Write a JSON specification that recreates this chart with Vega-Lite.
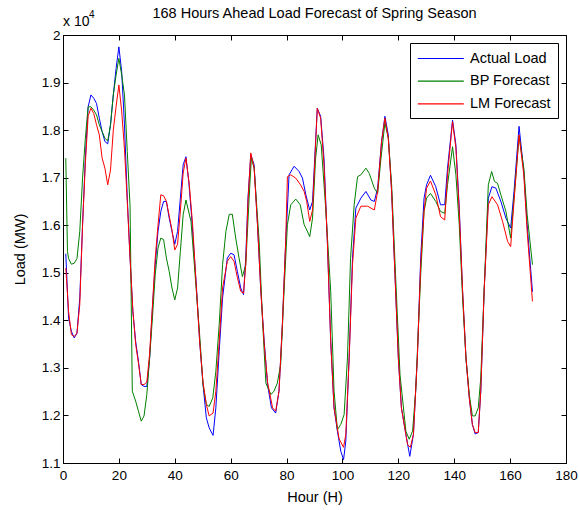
{
"$schema": "https://vega.github.io/schema/vega-lite/v6.json",
"autosize": "none",
"width": 503, "height": 428,
"padding": {"left": 63, "top": 35, "right": 13, "bottom": 47},
"background": "white",
"title": {"text": "168 Hours Ahead Load Forecast of Spring Season", "font": "Liberation Sans", "fontSize": 14.5, "fontWeight": "normal", "color": "black", "offset": -11, "anchor": "middle"},
"config": {
  "view": {"stroke": "black", "strokeWidth": 1},
  "axis": {"grid": false, "domainColor": "black", "tickColor": "black", "labelColor": "black", "titleColor": "black", "labelFont": "Liberation Sans", "titleFont": "Liberation Sans", "labelFontSize": 13.5, "titleFontSize": 14.5, "titleFontWeight": "normal", "tickSize": -5}
},
"datasets": {
"load": [
{"h":1,"s":"Actual Load","v":15400},{"h":2,"s":"Actual Load","v":14050},{"h":3,"s":"Actual Load","v":13770},{"h":4,"s":"Actual Load","v":13630},{"h":5,"s":"Actual Load","v":13730},{"h":6,"s":"Actual Load","v":14470},{"h":7,"s":"Actual Load","v":16000},{"h":8,"s":"Actual Load","v":17410},{"h":9,"s":"Actual Load","v":18490},{"h":10,"s":"Actual Load","v":18740},{"h":11,"s":"Actual Load","v":18670},{"h":12,"s":"Actual Load","v":18560},{"h":13,"s":"Actual Load","v":18250},{"h":14,"s":"Actual Load","v":17970},{"h":15,"s":"Actual Load","v":17760},{"h":16,"s":"Actual Load","v":17710},{"h":17,"s":"Actual Load","v":18110},{"h":18,"s":"Actual Load","v":18740},{"h":19,"s":"Actual Load","v":19300},{"h":20,"s":"Actual Load","v":19750},{"h":21,"s":"Actual Load","v":19230},{"h":22,"s":"Actual Load","v":18110},{"h":23,"s":"Actual Load","v":16570},{"h":24,"s":"Actual Load","v":15310},{"h":25,"s":"Actual Load","v":14190},{"h":26,"s":"Actual Load","v":13560},{"h":27,"s":"Actual Load","v":13140},{"h":28,"s":"Actual Load","v":12650},{"h":29,"s":"Actual Load","v":12610},{"h":30,"s":"Actual Load","v":12610},{"h":31,"s":"Actual Load","v":13210},{"h":32,"s":"Actual Load","v":14260},{"h":33,"s":"Actual Load","v":15170},{"h":34,"s":"Actual Load","v":15870},{"h":35,"s":"Actual Load","v":16290},{"h":36,"s":"Actual Load","v":16500},{"h":37,"s":"Actual Load","v":16500},{"h":38,"s":"Actual Load","v":16150},{"h":39,"s":"Actual Load","v":15870},{"h":40,"s":"Actual Load","v":15600},{"h":41,"s":"Actual Load","v":15870},{"h":42,"s":"Actual Load","v":16570},{"h":43,"s":"Actual Load","v":17270},{"h":44,"s":"Actual Load","v":17440},{"h":45,"s":"Actual Load","v":16920},{"h":46,"s":"Actual Load","v":16200},{"h":47.7,"s":"Actual Load","v":14750},{"h":48.9,"s":"Actual Load","v":13560},{"h":50.1,"s":"Actual Load","v":12650},{"h":51.3,"s":"Actual Load","v":11950},{"h":52.3,"s":"Actual Load","v":11740},{"h":53.7,"s":"Actual Load","v":11580},{"h":54.7,"s":"Actual Load","v":12160},{"h":55.9,"s":"Actual Load","v":13350},{"h":57.1,"s":"Actual Load","v":14470},{"h":58.8,"s":"Actual Load","v":15310},{"h":60,"s":"Actual Load","v":15410},{"h":61.2,"s":"Actual Load","v":15380},{"h":62.4,"s":"Actual Load","v":15030},{"h":63.6,"s":"Actual Load","v":14680},{"h":64.6,"s":"Actual Load","v":14540},{"h":65.4,"s":"Actual Load","v":15310},{"h":66.2,"s":"Actual Load","v":16570},{"h":67.2,"s":"Actual Load","v":17480},{"h":68.4,"s":"Actual Load","v":17270},{"h":69.6,"s":"Actual Load","v":16010},{"h":70.8,"s":"Actual Load","v":14610},{"h":72,"s":"Actual Load","v":13560},{"h":73.2,"s":"Actual Load","v":12650},{"h":74.6,"s":"Actual Load","v":12160},{"h":76.1,"s":"Actual Load","v":12050},{"h":77.3,"s":"Actual Load","v":12510},{"h":78.5,"s":"Actual Load","v":13910},{"h":79.7,"s":"Actual Load","v":15660},{"h":80.9,"s":"Actual Load","v":17060},{"h":82.7,"s":"Actual Load","v":17240},{"h":84.5,"s":"Actual Load","v":17130},{"h":85.7,"s":"Actual Load","v":16990},{"h":86.9,"s":"Actual Load","v":16640},{"h":88.3,"s":"Actual Load","v":16320},{"h":89.3,"s":"Actual Load","v":16500},{"h":91,"s":"Actual Load","v":18460},{"h":92.2,"s":"Actual Load","v":18290},{"h":93.4,"s":"Actual Load","v":17410},{"h":94.6,"s":"Actual Load","v":15660},{"h":95.8,"s":"Actual Load","v":13560},{"h":97,"s":"Actual Load","v":12160},{"h":98.2,"s":"Actual Load","v":11670},{"h":99.4,"s":"Actual Load","v":11250},{"h":100.4,"s":"Actual Load","v":11070},{"h":101.2,"s":"Actual Load","v":11460},{"h":102.4,"s":"Actual Load","v":13210},{"h":103.6,"s":"Actual Load","v":15310},{"h":104.8,"s":"Actual Load","v":16360},{"h":106.6,"s":"Actual Load","v":16570},{"h":108.4,"s":"Actual Load","v":16710},{"h":110.2,"s":"Actual Load","v":16530},{"h":111.4,"s":"Actual Load","v":16500},{"h":112.6,"s":"Actual Load","v":16780},{"h":114,"s":"Actual Load","v":17760},{"h":115.2,"s":"Actual Load","v":18290},{"h":116.4,"s":"Actual Load","v":17900},{"h":117.6,"s":"Actual Load","v":16710},{"h":118.8,"s":"Actual Load","v":14960},{"h":120,"s":"Actual Load","v":13210},{"h":121.1,"s":"Actual Load","v":12160},{"h":122.7,"s":"Actual Load","v":11600},{"h":124.1,"s":"Actual Load","v":11140},{"h":125.4,"s":"Actual Load","v":11600},{"h":126.8,"s":"Actual Load","v":13210},{"h":128,"s":"Actual Load","v":15310},{"h":129.2,"s":"Actual Load","v":16570},{"h":130.1,"s":"Actual Load","v":16850},{"h":131.5,"s":"Actual Load","v":17050},{"h":133.4,"s":"Actual Load","v":16810},{"h":135.1,"s":"Actual Load","v":16430},{"h":136.6,"s":"Actual Load","v":16430},{"h":137.6,"s":"Actual Load","v":17200},{"h":139.4,"s":"Actual Load","v":18210},{"h":140.6,"s":"Actual Load","v":17690},{"h":141.8,"s":"Actual Load","v":16360},{"h":143,"s":"Actual Load","v":14610},{"h":144.2,"s":"Actual Load","v":13210},{"h":145.4,"s":"Actual Load","v":12370},{"h":146.5,"s":"Actual Load","v":11810},{"h":147.5,"s":"Actual Load","v":11610},{"h":148.6,"s":"Actual Load","v":11640},{"h":149.5,"s":"Actual Load","v":12510},{"h":150.7,"s":"Actual Load","v":14610},{"h":152.2,"s":"Actual Load","v":16570},{"h":153.5,"s":"Actual Load","v":16810},{"h":154.9,"s":"Actual Load","v":16780},{"h":156.7,"s":"Actual Load","v":16500},{"h":158.5,"s":"Actual Load","v":16150},{"h":160.2,"s":"Actual Load","v":15940},{"h":161.4,"s":"Actual Load","v":16710},{"h":163.2,"s":"Actual Load","v":18080},{"h":164.9,"s":"Actual Load","v":17130},{"h":166.1,"s":"Actual Load","v":16010},{"h":168,"s":"Actual Load","v":14600},
{"h":1,"s":"BP Forecast","v":17410},{"h":1.6,"s":"BP Forecast","v":15450},{"h":2,"s":"BP Forecast","v":15300},{"h":3,"s":"BP Forecast","v":15180},{"h":4,"s":"BP Forecast","v":15200},{"h":5,"s":"BP Forecast","v":15300},{"h":6,"s":"BP Forecast","v":15870},{"h":7,"s":"BP Forecast","v":16990},{"h":8,"s":"BP Forecast","v":17830},{"h":9,"s":"BP Forecast","v":18490},{"h":10,"s":"BP Forecast","v":18490},{"h":11,"s":"BP Forecast","v":18420},{"h":12,"s":"BP Forecast","v":18320},{"h":13,"s":"BP Forecast","v":18110},{"h":14,"s":"BP Forecast","v":17970},{"h":15,"s":"BP Forecast","v":17830},{"h":16,"s":"BP Forecast","v":17770},{"h":17,"s":"BP Forecast","v":18110},{"h":18,"s":"BP Forecast","v":18740},{"h":19,"s":"BP Forecast","v":19160},{"h":20,"s":"BP Forecast","v":19510},{"h":21,"s":"BP Forecast","v":19160},{"h":22,"s":"BP Forecast","v":18740},{"h":23,"s":"BP Forecast","v":17550},{"h":24,"s":"BP Forecast","v":16390},{"h":24.8,"s":"BP Forecast","v":12510},{"h":26,"s":"BP Forecast","v":12300},{"h":27,"s":"BP Forecast","v":12090},{"h":28,"s":"BP Forecast","v":11880},{"h":29,"s":"BP Forecast","v":11990},{"h":30,"s":"BP Forecast","v":12440},{"h":31,"s":"BP Forecast","v":13210},{"h":32,"s":"BP Forecast","v":14050},{"h":33,"s":"BP Forecast","v":14960},{"h":34,"s":"BP Forecast","v":15520},{"h":35,"s":"BP Forecast","v":15730},{"h":36,"s":"BP Forecast","v":15700},{"h":37,"s":"BP Forecast","v":15310},{"h":38,"s":"BP Forecast","v":15030},{"h":39,"s":"BP Forecast","v":14680},{"h":40,"s":"BP Forecast","v":14430},{"h":41,"s":"BP Forecast","v":14680},{"h":42,"s":"BP Forecast","v":15450},{"h":43,"s":"BP Forecast","v":16220},{"h":44,"s":"BP Forecast","v":16530},{"h":45.8,"s":"BP Forecast","v":16080},{"h":47,"s":"BP Forecast","v":15170},{"h":48.9,"s":"BP Forecast","v":13700},{"h":50.1,"s":"BP Forecast","v":12650},{"h":51.3,"s":"BP Forecast","v":12230},{"h":52.3,"s":"BP Forecast","v":12190},{"h":53.6,"s":"BP Forecast","v":12370},{"h":54.7,"s":"BP Forecast","v":12930},{"h":55.9,"s":"BP Forecast","v":13910},{"h":57.1,"s":"BP Forecast","v":15170},{"h":58.3,"s":"BP Forecast","v":15870},{"h":59.5,"s":"BP Forecast","v":16230},{"h":60.6,"s":"BP Forecast","v":16230},{"h":61.8,"s":"BP Forecast","v":15730},{"h":63,"s":"BP Forecast","v":15310},{"h":64.2,"s":"BP Forecast","v":14920},{"h":65.4,"s":"BP Forecast","v":15170},{"h":66.6,"s":"BP Forecast","v":16570},{"h":67.4,"s":"BP Forecast","v":17410},{"h":68.4,"s":"BP Forecast","v":17200},{"h":70.2,"s":"BP Forecast","v":15660},{"h":71.4,"s":"BP Forecast","v":14000},{"h":72.6,"s":"BP Forecast","v":12680},{"h":74.4,"s":"BP Forecast","v":12440},{"h":75.5,"s":"BP Forecast","v":12510},{"h":76.7,"s":"BP Forecast","v":12680},{"h":77.9,"s":"BP Forecast","v":13070},{"h":79.1,"s":"BP Forecast","v":14610},{"h":80.3,"s":"BP Forecast","v":16010},{"h":81.5,"s":"BP Forecast","v":16430},{"h":83.3,"s":"BP Forecast","v":16550},{"h":84.9,"s":"BP Forecast","v":16430},{"h":86.3,"s":"BP Forecast","v":16010},{"h":86.9,"s":"BP Forecast","v":15940},{"h":88.3,"s":"BP Forecast","v":15760},{"h":89.3,"s":"BP Forecast","v":16150},{"h":90.4,"s":"BP Forecast","v":17410},{"h":91.3,"s":"BP Forecast","v":17900},{"h":92.4,"s":"BP Forecast","v":17690},{"h":94,"s":"BP Forecast","v":16360},{"h":95.8,"s":"BP Forecast","v":14610},{"h":97,"s":"BP Forecast","v":12510},{"h":98.2,"s":"BP Forecast","v":11700},{"h":99.4,"s":"BP Forecast","v":11810},{"h":100.6,"s":"BP Forecast","v":12020},{"h":101.8,"s":"BP Forecast","v":13210},{"h":102.9,"s":"BP Forecast","v":15300},{"h":104.2,"s":"BP Forecast","v":16430},{"h":105.4,"s":"BP Forecast","v":17020},{"h":106.6,"s":"BP Forecast","v":17060},{"h":108.4,"s":"BP Forecast","v":17200},{"h":109.6,"s":"BP Forecast","v":17090},{"h":111.4,"s":"BP Forecast","v":16780},{"h":112.6,"s":"BP Forecast","v":16670},{"h":113.8,"s":"BP Forecast","v":17410},{"h":115.2,"s":"BP Forecast","v":18150},{"h":116.4,"s":"BP Forecast","v":17830},{"h":117.6,"s":"BP Forecast","v":16850},{"h":119,"s":"BP Forecast","v":14960},{"h":120.6,"s":"BP Forecast","v":12860},{"h":122.7,"s":"BP Forecast","v":11670},{"h":123.9,"s":"BP Forecast","v":11500},{"h":125.1,"s":"BP Forecast","v":11670},{"h":126.2,"s":"BP Forecast","v":12510},{"h":128,"s":"BP Forecast","v":14960},{"h":129.2,"s":"BP Forecast","v":16290},{"h":130.1,"s":"BP Forecast","v":16570},{"h":131.5,"s":"BP Forecast","v":16670},{"h":133.4,"s":"BP Forecast","v":16500},{"h":135.1,"s":"BP Forecast","v":16290},{"h":136.6,"s":"BP Forecast","v":16250},{"h":137.6,"s":"BP Forecast","v":16850},{"h":139.4,"s":"BP Forecast","v":17650},{"h":140.6,"s":"BP Forecast","v":17060},{"h":141.8,"s":"BP Forecast","v":16010},{"h":143,"s":"BP Forecast","v":14470},{"h":144.2,"s":"BP Forecast","v":13210},{"h":145.4,"s":"BP Forecast","v":12440},{"h":146.5,"s":"BP Forecast","v":11990},{"h":147.5,"s":"BP Forecast","v":11990},{"h":148.6,"s":"BP Forecast","v":12160},{"h":149.5,"s":"BP Forecast","v":12790},{"h":150.7,"s":"BP Forecast","v":14610},{"h":152.2,"s":"BP Forecast","v":16850},{"h":153.4,"s":"BP Forecast","v":17130},{"h":154.4,"s":"BP Forecast","v":16920},{"h":155.5,"s":"BP Forecast","v":16880},{"h":156.7,"s":"BP Forecast","v":16640},{"h":158.5,"s":"BP Forecast","v":16290},{"h":160.2,"s":"BP Forecast","v":15730},{"h":161.4,"s":"BP Forecast","v":16570},{"h":163.2,"s":"BP Forecast","v":17870},{"h":164.9,"s":"BP Forecast","v":17200},{"h":166.1,"s":"BP Forecast","v":16220},{"h":168,"s":"BP Forecast","v":15170},
{"h":1,"s":"LM Forecast","v":15100},{"h":2,"s":"LM Forecast","v":14190},{"h":3,"s":"LM Forecast","v":13700},{"h":4,"s":"LM Forecast","v":13660},{"h":5,"s":"LM Forecast","v":13730},{"h":6,"s":"LM Forecast","v":14330},{"h":7,"s":"LM Forecast","v":16000},{"h":8,"s":"LM Forecast","v":17300},{"h":9,"s":"LM Forecast","v":18300},{"h":10,"s":"LM Forecast","v":18460},{"h":11,"s":"LM Forecast","v":18350},{"h":12,"s":"LM Forecast","v":18110},{"h":13,"s":"LM Forecast","v":17900},{"h":14,"s":"LM Forecast","v":17410},{"h":15,"s":"LM Forecast","v":17200},{"h":16,"s":"LM Forecast","v":16850},{"h":17,"s":"LM Forecast","v":17160},{"h":18,"s":"LM Forecast","v":18000},{"h":19,"s":"LM Forecast","v":18500},{"h":20,"s":"LM Forecast","v":18950},{"h":21,"s":"LM Forecast","v":18400},{"h":22,"s":"LM Forecast","v":17600},{"h":23,"s":"LM Forecast","v":16500},{"h":24,"s":"LM Forecast","v":15300},{"h":25,"s":"LM Forecast","v":14200},{"h":26,"s":"LM Forecast","v":13500},{"h":27,"s":"LM Forecast","v":13100},{"h":28,"s":"LM Forecast","v":12650},{"h":29,"s":"LM Forecast","v":12650},{"h":30,"s":"LM Forecast","v":12700},{"h":31,"s":"LM Forecast","v":13300},{"h":32,"s":"LM Forecast","v":14300},{"h":33,"s":"LM Forecast","v":15300},{"h":34,"s":"LM Forecast","v":16000},{"h":35,"s":"LM Forecast","v":16640},{"h":36,"s":"LM Forecast","v":16620},{"h":37,"s":"LM Forecast","v":16500},{"h":38,"s":"LM Forecast","v":16200},{"h":39,"s":"LM Forecast","v":15900},{"h":40,"s":"LM Forecast","v":15480},{"h":41,"s":"LM Forecast","v":15600},{"h":42,"s":"LM Forecast","v":16300},{"h":43,"s":"LM Forecast","v":17100},{"h":44,"s":"LM Forecast","v":17410},{"h":45.2,"s":"LM Forecast","v":16850},{"h":46.4,"s":"LM Forecast","v":16000},{"h":47.7,"s":"LM Forecast","v":14700},{"h":48.9,"s":"LM Forecast","v":13560},{"h":50.1,"s":"LM Forecast","v":12700},{"h":51.3,"s":"LM Forecast","v":12230},{"h":52.3,"s":"LM Forecast","v":11990},{"h":53.7,"s":"LM Forecast","v":12050},{"h":54.7,"s":"LM Forecast","v":12510},{"h":55.9,"s":"LM Forecast","v":13560},{"h":57.1,"s":"LM Forecast","v":14680},{"h":58.8,"s":"LM Forecast","v":15240},{"h":60,"s":"LM Forecast","v":15340},{"h":61.2,"s":"LM Forecast","v":15240},{"h":62.4,"s":"LM Forecast","v":14900},{"h":63.6,"s":"LM Forecast","v":14610},{"h":64.6,"s":"LM Forecast","v":14570},{"h":65.4,"s":"LM Forecast","v":15170},{"h":66.2,"s":"LM Forecast","v":16500},{"h":67.2,"s":"LM Forecast","v":17520},{"h":68.4,"s":"LM Forecast","v":17200},{"h":69.6,"s":"LM Forecast","v":16010},{"h":70.8,"s":"LM Forecast","v":14610},{"h":72,"s":"LM Forecast","v":13500},{"h":73.2,"s":"LM Forecast","v":12700},{"h":75,"s":"LM Forecast","v":12160},{"h":76.1,"s":"LM Forecast","v":12090},{"h":77.3,"s":"LM Forecast","v":12510},{"h":78.5,"s":"LM Forecast","v":13910},{"h":79.7,"s":"LM Forecast","v":15660},{"h":80.3,"s":"LM Forecast","v":17020},{"h":81.5,"s":"LM Forecast","v":17060},{"h":83.3,"s":"LM Forecast","v":16990},{"h":85,"s":"LM Forecast","v":16850},{"h":86.3,"s":"LM Forecast","v":16710},{"h":87.2,"s":"LM Forecast","v":16500},{"h":88.3,"s":"LM Forecast","v":16080},{"h":89.3,"s":"LM Forecast","v":16320},{"h":91,"s":"LM Forecast","v":18460},{"h":92.2,"s":"LM Forecast","v":18250},{"h":93.4,"s":"LM Forecast","v":17270},{"h":94.6,"s":"LM Forecast","v":15660},{"h":95.8,"s":"LM Forecast","v":13560},{"h":97,"s":"LM Forecast","v":12160},{"h":98.8,"s":"LM Forecast","v":11510},{"h":100.4,"s":"LM Forecast","v":11330},{"h":101.2,"s":"LM Forecast","v":11600},{"h":102.4,"s":"LM Forecast","v":13210},{"h":103.6,"s":"LM Forecast","v":15170},{"h":104.8,"s":"LM Forecast","v":16150},{"h":106.6,"s":"LM Forecast","v":16400},{"h":109,"s":"LM Forecast","v":16400},{"h":111.4,"s":"LM Forecast","v":16320},{"h":112.6,"s":"LM Forecast","v":16710},{"h":114,"s":"LM Forecast","v":17760},{"h":115.2,"s":"LM Forecast","v":18250},{"h":116.4,"s":"LM Forecast","v":17830},{"h":117.6,"s":"LM Forecast","v":16710},{"h":118.8,"s":"LM Forecast","v":14960},{"h":120,"s":"LM Forecast","v":13210},{"h":121.1,"s":"LM Forecast","v":12160},{"h":123.3,"s":"LM Forecast","v":11390},{"h":124.3,"s":"LM Forecast","v":11330},{"h":125.4,"s":"LM Forecast","v":11600},{"h":126.8,"s":"LM Forecast","v":13210},{"h":128,"s":"LM Forecast","v":15170},{"h":129.2,"s":"LM Forecast","v":16290},{"h":130.1,"s":"LM Forecast","v":16780},{"h":131.5,"s":"LM Forecast","v":16930},{"h":133.4,"s":"LM Forecast","v":16640},{"h":135.1,"s":"LM Forecast","v":16180},{"h":136.6,"s":"LM Forecast","v":16110},{"h":137.6,"s":"LM Forecast","v":17060},{"h":139.4,"s":"LM Forecast","v":18180},{"h":140.6,"s":"LM Forecast","v":17620},{"h":141.8,"s":"LM Forecast","v":16290},{"h":143,"s":"LM Forecast","v":14610},{"h":144.2,"s":"LM Forecast","v":13210},{"h":145.4,"s":"LM Forecast","v":12370},{"h":146.5,"s":"LM Forecast","v":11810},{"h":147.5,"s":"LM Forecast","v":11640},{"h":148.6,"s":"LM Forecast","v":11640},{"h":149.5,"s":"LM Forecast","v":12510},{"h":150.7,"s":"LM Forecast","v":14610},{"h":152.2,"s":"LM Forecast","v":16430},{"h":153.5,"s":"LM Forecast","v":16600},{"h":155.5,"s":"LM Forecast","v":16430},{"h":157.3,"s":"LM Forecast","v":16080},{"h":159.1,"s":"LM Forecast","v":15660},{"h":160.2,"s":"LM Forecast","v":15550},{"h":161.4,"s":"LM Forecast","v":16500},{"h":163.2,"s":"LM Forecast","v":17900},{"h":164.9,"s":"LM Forecast","v":17060},{"h":166.1,"s":"LM Forecast","v":15870},{"h":168,"s":"LM Forecast","v":14400}
]
},
"data": {"name": "load"},
"layer": [
  {
    "mark": {"type": "line", "strokeWidth": 1, "clip": true},
    "encoding": {
      "x": {"field": "h", "type": "quantitative", "scale": {"domain": [0, 180], "nice": false, "zero": false},
            "axis": {"values": [0,20,40,60,80,100,120,140,160,180], "title": "Hour (H)", "labelPadding": 10, "titlePadding": 9, "labelFlush": false}},
      "y": {"field": "v", "type": "quantitative", "scale": {"domain": [11000, 20000], "nice": false, "zero": false},
            "axis": {"values": [11000,12000,13000,14000,15000,16000,17000,18000,19000,20000], "labelExpr": "format(datum.value/10000, '.1~f')", "title": "Load (MW)", "labelPadding": 8, "titlePadding": 14}},
      "color": {"field": "s", "type": "nominal",
        "scale": {"domain": ["Actual Load", "BP Forecast", "LM Forecast"], "range": ["#0000ff", "#008000", "#ff0000"]},
        "legend": {"title": null, "orient": "top-right", "offset": 8, "strokeColor": "black", "fillColor": "white", "padding": 7, "symbolType": "M-1,0H5", "symbolSize": 235, "symbolStrokeWidth": 1.2, "labelFont": "Liberation Sans", "labelFontSize": 14.5, "labelColor": "black", "labelOffset": 36, "rowPadding": 7.7, "cornerRadius": 0}}
    }
  },
  {
    "data": {"values": [{"label": "x 10"}]},
    "mark": {"type": "text", "align": "left", "baseline": "alphabetic", "dy": -9, "font": "Liberation Sans", "fontSize": 14, "fontWeight": "normal", "color": "black"},
    "encoding": {
      "text": {"field": "label"},
      "x": {"datum": 0, "type": "quantitative", "axis": null},
      "y": {"datum": 20000, "type": "quantitative", "axis": null}
    }
  },
  {
    "data": {"values": [{"label": "4"}]},
    "mark": {"type": "text", "align": "left", "baseline": "alphabetic", "dx": 26, "dy": -17, "font": "Liberation Sans", "fontSize": 10, "fontWeight": "normal", "color": "black"},
    "encoding": {
      "text": {"field": "label"},
      "x": {"datum": 0, "type": "quantitative", "axis": null},
      "y": {"datum": 20000, "type": "quantitative", "axis": null}
    }
  },
  {
    "mark": {"type": "line", "strokeOpacity": 0},
    "encoding": {
      "x": {"field": "h", "type": "quantitative", "axis": {"orient": "top", "values": [0,20,40,60,80,100,120,140,160,180], "labels": false, "title": null, "domain": false}},
      "y": {"field": "v", "type": "quantitative", "axis": {"orient": "right", "values": [11000,12000,13000,14000,15000,16000,17000,18000,19000,20000], "labels": false, "title": null, "domain": false}}
    }
  }
],
"resolve": {"axis": {"x": "independent", "y": "independent"}}
}
